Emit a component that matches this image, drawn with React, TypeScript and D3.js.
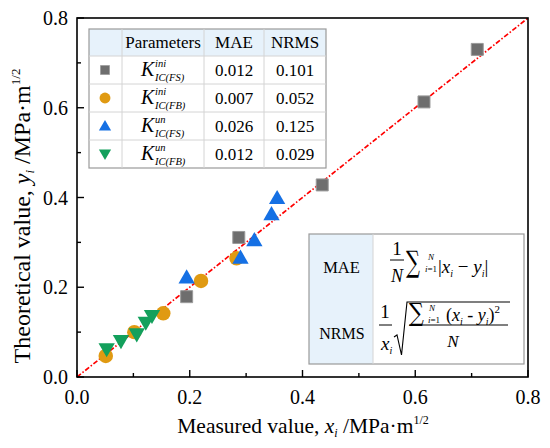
import React from "react";
import * as d3 from "d3";

const fsIniX = [0.1945, 0.287, 0.435, 0.6155, 0.71];
const fsIniY = [0.179, 0.311, 0.428, 0.613, 0.73];
const fbIniX = [0.051, 0.1017, 0.153, 0.22, 0.283];
const fbIniY = [0.047, 0.1, 0.142, 0.214, 0.2645];
const fsUnX = [0.1945, 0.29, 0.3146, 0.345, 0.355];
const fsUnY = [0.219, 0.263, 0.302, 0.36, 0.396];
const fbUnX = [0.0526, 0.078, 0.106, 0.122, 0.133];
const fbUnY = [0.065, 0.083, 0.098, 0.124, 0.139];

const paramSup = ["ini", "ini", "un", "un"];
const paramSub = ["IC(FS)", "IC(FB)", "IC(FS)", "IC(FB)"];
const maeVals = ["0.012", "0.007", "0.026", "0.012"];
const nrmsVals = ["0.101", "0.052", "0.125", "0.029"];

const ticksMajor = [0, 0.2, 0.4, 0.6, 0.8];
const ticksMinor = [0.1, 0.3, 0.5, 0.7];

const FONT = "'Liberation Serif', 'Times New Roman', serif";
const SIGMA_FONT = "'DejaVu Serif', serif";
const GRAY = "#6e6e6e";
const ORANGE = "#e09a12";
const BLUE = "#1570e4";
const GREEN = "#13a05c";
const LIGHT = "#e7f2fb";

const L = 77, R = 528, T = 18, B = 377;

export default function App() {
  const x = d3.scaleLinear().domain([0, 0.8]).range([L, R]);
  const y = d3.scaleLinear().domain([0, 0.8]).range([B, T]);

  const sq = d3.symbol().type(d3.symbolSquare).size(144)()!;
  const ci = d3.symbol().type(d3.symbolCircle).size(165)()!;
  const tri = d3.symbol().type(d3.symbolTriangle).size(115)()!;

  const series = [
    { xs: fsIniX, ys: fsIniY, path: sq, fill: GRAY, stroke: "#9a9a9a", rot: 0 },
    { xs: fbIniX, ys: fbIniY, path: ci, fill: ORANGE, stroke: "none", rot: 0 },
    { xs: fsUnX, ys: fsUnY, path: tri, fill: BLUE, stroke: "none", rot: 0 },
    { xs: fbUnX, ys: fbUnY, path: tri, fill: GREEN, stroke: "none", rot: 180 },
  ];

  const tL = 89, tT = 29, tR = 326, tB = 168;
  const rowY = [29, 56, 84, 112, 140, 168];
  const colX = [89, 122, 204, 264, 326];

  return (
    <svg width={550} height={448} style={{ position: "absolute", left: 0, top: 0 }} fontFamily={FONT}>
      <rect x={0} y={0} width={550} height={448} fill="#fff" />
      <line x1={x(0)} y1={y(0)} x2={x(0.8)} y2={y(0.8)} stroke="#ff0000" strokeWidth={1.7} strokeDasharray="5,2,1.5,2" />

      {/* legend table */}
      <rect x={tL} y={tT} width={tR - tL} height={rowY[1] - tT} fill={LIGHT} />
      <rect x={tL} y={tT} width={tR - tL} height={tB - tT} fill="none" stroke="#9a9a9a" strokeWidth={1.2} />
      {rowY.slice(1, 5).map((ry, i) => (
        <line key={i} x1={tL} x2={tR} y1={ry} y2={ry} stroke="#d4d4d4" strokeWidth={1} />
      ))}
      {colX.slice(1, 4).map((cx, i) => (
        <line key={i} x1={cx} x2={cx} y1={tT} y2={tB} stroke="#d4d4d4" strokeWidth={1} />
      ))}
      <text x={(colX[1] + colX[2]) / 2} y={48} fontSize={17} textAnchor="middle">Parameters</text>
      <text x={(colX[2] + colX[3]) / 2} y={48} fontSize={17} textAnchor="middle">MAE</text>
      <text x={(colX[3] + colX[4]) / 2} y={48} fontSize={17} textAnchor="middle">NRMS</text>
      {series.map((s, i) => {
        const cy = (rowY[i + 1] + rowY[i + 2]) / 2;
        const k = 0.75;
        return (
          <g key={i}>
            <path d={s.path} fill={s.fill} stroke={s.stroke} transform={`translate(${105},${cy + (s.path === tri ? (s.rot ? -1 : 1) : 0)}) rotate(${s.rot}) scale(${k})`} />
            <text x={141} y={cy + 6} fontSize={20} fontStyle="italic">K</text>
            <text x={155} y={cy - 3} fontSize={10.5} fontStyle="italic">{paramSup[i]}</text>
            <text x={155} y={cy + 11} fontSize={10.5} fontStyle="italic">{paramSub[i]}</text>
            <text x={(colX[2] + colX[3]) / 2} y={cy + 6} fontSize={17} textAnchor="middle">{maeVals[i]}</text>
            <text x={(colX[3] + colX[4]) / 2} y={cy + 6} fontSize={17} textAnchor="middle">{nrmsVals[i]}</text>
          </g>
        );
      })}

      {/* formula box */}
      <rect x={309} y={234} width={64} height={130} fill={LIGHT} />
      <rect x={309} y={234} width={215} height={130} fill="none" stroke="#9a9a9a" strokeWidth={1.2} />
      <line x1={373} x2={373} y1={234} y2={364} stroke="#d4d4d4" strokeWidth={1} />
      <text x={341.5} y={273} fontSize={16.5} textAnchor="middle">MAE</text>
      <text x={342} y={339} fontSize={16} textAnchor="middle">NRMS</text>
      {/* MAE formula */}
      <text x={397} y={255} fontSize={19} textAnchor="middle">1</text>
      <line x1={390} x2={404} y1={260} y2={260} stroke="#000" strokeWidth={1} />
      <text x={397} y={282} fontSize={18} textAnchor="middle" fontStyle="italic">N</text>
      <text transform="translate(406,272) scale(0.75,1.15)" fontSize={26} fontFamily={SIGMA_FONT}>∑</text>
      <text x={428} y={260} fontSize={9} fontStyle="italic">N</text>
      <text x={425} y={272} fontSize={9}><tspan fontStyle="italic">i</tspan>=1</text>
      <text x={438} y={273} fontSize={19}>|<tspan fontStyle="italic">x</tspan><tspan fontSize={10} dy={4} fontStyle="italic">i</tspan><tspan dy={-4}> − </tspan><tspan fontStyle="italic">y</tspan><tspan fontSize={10} dy={4} fontStyle="italic">i</tspan><tspan dy={-4}>|</tspan></text>
      {/* NRMS formula */}
      <text x={385} y={318} fontSize={19} textAnchor="middle">1</text>
      <line x1={379} x2={392} y1={325} y2={325} stroke="#000" strokeWidth={1} />
      <text x={381} y={350} fontSize={19} fontStyle="italic">x<tspan fontSize={10} dy={4}>i</tspan></text>
      <polyline points="394,337 397,335 401.5,355 407,302 510,302" fill="none" stroke="#000" strokeWidth={1.1} />
      <line x1={409} x2={508} y1={325} y2={325} stroke="#000" strokeWidth={1} />
      <text transform="translate(409,321) scale(0.8,0.95)" fontSize={26} fontFamily={SIGMA_FONT}>∑</text>
      <text x={429} y={311} fontSize={9} fontStyle="italic">N</text>
      <text x={428} y={323} fontSize={9}><tspan fontStyle="italic">i</tspan>=1</text>
      <text x={446} y={321} fontSize={18}>(<tspan fontStyle="italic">x</tspan><tspan fontSize={10} dy={4} fontStyle="italic">i</tspan><tspan dy={-4}> - </tspan><tspan fontStyle="italic">y</tspan><tspan fontSize={10} dy={4} fontStyle="italic">i</tspan><tspan dy={-4}>)</tspan><tspan fontSize={11} dy={-8}>2</tspan></text>
      <text x={453} y={347} fontSize={17} textAnchor="middle" fontStyle="italic">N</text>

      {/* data points */}
      {series.map((s, si) => (
        <g key={si}>
          {s.xs.map((v, i) => (
            <path key={i} d={s.path} fill={s.fill} stroke={s.stroke} strokeWidth={1}
              transform={`translate(${x(v)},${y(s.ys[i])}) rotate(${s.rot})`} />
          ))}
        </g>
      ))}

      {/* axes frame */}
      <rect x={L} y={T} width={R - L} height={B - T} fill="none" stroke="#000" strokeWidth={1.6} />
      {ticksMajor.map((t, i) => (
        <g key={"M" + i}>
          <line x1={x(t)} x2={x(t)} y1={B} y2={B - 7} stroke="#000" strokeWidth={1.4} />
          <line x1={L} x2={L + 7} y1={y(t)} y2={y(t)} stroke="#000" strokeWidth={1.4} />
          <text x={x(t)} y={403.5} fontSize={20} textAnchor="middle">{t.toFixed(1)}</text>
          <text x={L - 9} y={y(t) + 7} fontSize={20} textAnchor="end">{t.toFixed(1)}</text>
        </g>
      ))}
      {ticksMinor.map((t, i) => (
        <g key={"m" + i}>
          <line x1={x(t)} x2={x(t)} y1={B} y2={B - 4} stroke="#000" strokeWidth={1.4} />
          <line x1={L} x2={L + 4} y1={y(t)} y2={y(t)} stroke="#000" strokeWidth={1.4} />
        </g>
      ))}
      <text x={303} y={433} fontSize={21.5} textAnchor="middle">Measured value, <tspan fontStyle="italic">x</tspan><tspan fontSize={12} dy={4} fontStyle="italic">i</tspan><tspan dy={-4}> /MPa·m</tspan><tspan fontSize={12} dy={-9}>1/2</tspan></text>
      <text transform="translate(30,216) rotate(-90)" fontSize={24} textAnchor="middle">Theoretical value, <tspan fontStyle="italic">y</tspan><tspan fontSize={13} dy={4} fontStyle="italic">i</tspan><tspan dy={-4}> /MPa·m</tspan><tspan fontSize={13} dy={-10}>1/2</tspan></text>
    </svg>
  );
}
